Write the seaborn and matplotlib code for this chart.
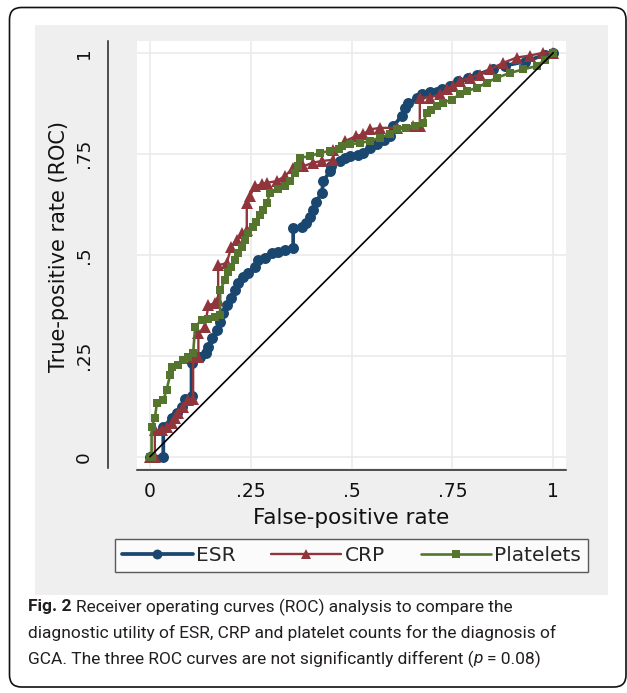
import numpy as np
import pandas as pd
import matplotlib
matplotlib.use("Agg")
import matplotlib.pyplot as plt
import seaborn as sns
from matplotlib.patches import FancyBboxPatch, Rectangle

# ---------------- data ----------------
esr_fpr = [0, 0.033, 0.033, 0.054, 0.066, 0.079, 0.087, 0.103, 0.103, 0.124,
           0.140, 0.145, 0.153, 0.165, 0.174, 0.182, 0.190, 0.202, 0.211, 0.219,
           0.231, 0.244, 0.260, 0.269, 0.285, 0.302, 0.318, 0.335, 0.355, 0.355,
           0.376, 0.388, 0.397, 0.405, 0.411, 0.426, 0.430, 0.446, 0.450, 0.471,
           0.483, 0.496, 0.517, 0.529, 0.545, 0.562, 0.579, 0.595, 0.603, 0.624,
           0.632, 0.640, 0.661, 0.674, 0.694, 0.711, 0.723, 0.744, 0.764, 0.789,
           0.810, 0.851, 0.880, 0.930, 0.979, 1.0]
esr_tpr = [0, 0, 0.074, 0.095, 0.107, 0.124, 0.142, 0.149, 0.231, 0.248,
           0.256, 0.272, 0.293, 0.314, 0.334, 0.355, 0.375, 0.392, 0.413, 0.429,
           0.444, 0.454, 0.470, 0.487, 0.491, 0.503, 0.507, 0.512, 0.516, 0.565,
           0.569, 0.578, 0.594, 0.611, 0.630, 0.653, 0.682, 0.707, 0.719, 0.732,
           0.740, 0.744, 0.748, 0.752, 0.765, 0.773, 0.785, 0.794, 0.818, 0.843,
           0.863, 0.875, 0.887, 0.897, 0.902, 0.902, 0.910, 0.918, 0.929, 0.937,
           0.945, 0.960, 0.968, 0.978, 0.995, 1.0]

crp_fpr = [0, 0.012, 0.012, 0.029, 0.041, 0.054, 0.062, 0.070, 0.083, 0.095,
           0.107, 0.107, 0.120, 0.120, 0.136, 0.145, 0.161, 0.169, 0.169, 0.190,
           0.202, 0.215, 0.227, 0.240, 0.240, 0.248, 0.260, 0.277, 0.289, 0.314,
           0.335, 0.355, 0.380, 0.405, 0.426, 0.455, 0.455, 0.483, 0.512, 0.529,
           0.545, 0.570, 0.612, 0.653, 0.669, 0.669, 0.694, 0.719, 0.736, 0.752,
           0.769, 0.793, 0.818, 0.843, 0.876, 0.909, 0.942, 0.975, 1.0]
crp_tpr = [0, 0, 0.066, 0.066, 0.074, 0.083, 0.095, 0.107, 0.124, 0.140,
           0.144, 0.248, 0.248, 0.305, 0.322, 0.375, 0.380, 0.388, 0.474, 0.479,
           0.520, 0.536, 0.553, 0.561, 0.627, 0.645, 0.670, 0.674, 0.678, 0.682,
           0.695, 0.715, 0.719, 0.728, 0.732, 0.735, 0.760, 0.781, 0.794, 0.798,
           0.810, 0.814, 0.814, 0.818, 0.818, 0.889, 0.889, 0.897, 0.909, 0.917,
           0.930, 0.938, 0.946, 0.959, 0.975, 0.988, 0.993, 1.0, 1.0]

plt_fpr = [0, 0.004, 0.004, 0.012, 0.017, 0.033, 0.041, 0.050, 0.054, 0.070,
           0.083, 0.095, 0.107, 0.112, 0.128, 0.145, 0.161, 0.174, 0.174, 0.186,
           0.194, 0.202, 0.211, 0.219, 0.227, 0.236, 0.244, 0.256, 0.264, 0.273,
           0.281, 0.289, 0.298, 0.318, 0.335, 0.347, 0.360, 0.368, 0.372, 0.397,
           0.421, 0.446, 0.468, 0.475, 0.496, 0.521, 0.545, 0.570, 0.595, 0.612,
           0.636, 0.657, 0.678, 0.686, 0.698, 0.711, 0.727, 0.748, 0.769, 0.785,
           0.810, 0.835, 0.860, 0.893, 0.926, 0.959, 0.979, 1.0]
plt_tpr = [0, 0, 0.074, 0.095, 0.132, 0.140, 0.165, 0.202, 0.223, 0.227,
           0.239, 0.248, 0.256, 0.322, 0.338, 0.342, 0.347, 0.351, 0.413, 0.437,
           0.458, 0.470, 0.487, 0.503, 0.520, 0.536, 0.553, 0.569, 0.582, 0.598,
           0.611, 0.627, 0.653, 0.662, 0.670, 0.682, 0.703, 0.719, 0.740, 0.744,
           0.752, 0.757, 0.761, 0.769, 0.773, 0.777, 0.781, 0.790, 0.798, 0.810,
           0.814, 0.818, 0.827, 0.851, 0.859, 0.868, 0.876, 0.884, 0.897, 0.905,
           0.913, 0.926, 0.938, 0.950, 0.959, 0.967, 0.983, 1.0]

ref_fpr = [0, 1]
ref_tpr = [0, 1]

series_names = ["ESR", "CRP", "Platelets"]
tick_values = [0, 0.25, 0.5, 0.75, 1]
tick_labels = ["0", ".25", ".5", ".75", "1"]
x_label = "False-positive rate"
y_label = "True-positive rate (ROC)"
# caption: list of lines, each a list of (text, weight, style) segments
caption_lines = [
    [("Fig. 2", "bold", "normal"),
     ("Receiver operating curves (ROC) analysis to compare the", "normal", "normal")],
    [("diagnostic utility of ESR, CRP and platelet counts for the diagnosis of", "normal", "normal")],
    [("GCA. The three ROC curves are not significantly different (", "normal", "normal"),
     ("p", "normal", "italic"),
     ("= 0.08)", "normal", "normal")],
]

# ---------------- styles ----------------
colors = {"ESR": "#1a476f", "CRP": "#90353b", "Platelets": "#55752f"}
markers = {"ESR": "o", "CRP": "^", "Platelets": "s"}
line_widths = {"ESR": 2.7, "CRP": 1.7, "Platelets": 1.9}
marker_sizes = {"ESR": 7.9, "CRP": 8.0, "Platelets": 6.3}

sns.set_style("white")
plt.rcParams["font.family"] = ["DejaVu Sans"]

W, H = 627, 693
fig = plt.figure(figsize=(W / 100, H / 100), dpi=100)
fig.patch.set_facecolor("white")


def px_in(x, y):
    return x / 100, (H - y) / 100


# outer rounded frame
x0, y0 = px_in(9.5, 687)
border = FancyBboxPatch((x0, y0), (626 - 9.5) / 100, (687 - 7.5) / 100,
                        boxstyle="round,pad=0,rounding_size=0.12",
                        transform=fig.dpi_scale_trans, facecolor="white",
                        edgecolor="#111111", linewidth=1.2, zorder=0)
fig.add_artist(border)
# grey graph region
gx, gy = px_in(35, 595)
panel = Rectangle((gx, gy), (608 - 35) / 100, (595 - 25) / 100,
                  transform=fig.dpi_scale_trans, facecolor="#efefef",
                  edgecolor="none", zorder=0.5)
fig.add_artist(panel)

# ---------------- axes ----------------
ax_left, ax_right, ax_top, ax_bot = 137, 566, 41, 468
ax = fig.add_axes([ax_left / W, 1 - ax_bot / H, (ax_right - ax_left) / W,
                   (ax_bot - ax_top) / H])
ax.set_facecolor("white")
ax.set_zorder(2)

df = pd.concat([
    pd.DataFrame({"fpr": esr_fpr, "tpr": esr_tpr, "test": "ESR"}),
    pd.DataFrame({"fpr": crp_fpr, "tpr": crp_tpr, "test": "CRP"}),
    pd.DataFrame({"fpr": plt_fpr, "tpr": plt_tpr, "test": "Platelets"}),
], ignore_index=True)

sns.lineplot(data=df, x="fpr", y="tpr", hue="test", style="test",
             hue_order=series_names, style_order=series_names,
             palette=colors, markers=markers, dashes=False,
             estimator=None, sort=False, legend=False, ax=ax,
             markeredgewidth=0)
for line, name in zip(ax.lines[:3], series_names):
    line.set_linewidth(line_widths[name])
    line.set_markersize(marker_sizes[name])
    line.set_markeredgewidth(0)
    line.set_zorder(3)

sns.lineplot(x=ref_fpr, y=ref_tpr, color="black", linewidth=1.2, ax=ax,
             estimator=None, sort=False, legend=False)
ax.lines[-1].set_zorder(4)

ax.set_xlim(-0.0322, 1.0315)
ax.set_ylim(-0.028, 1.029)
ax.set_xticks(tick_values, tick_labels)
ax.set_yticks(tick_values, tick_labels)
ax.grid(True, color="#ebebeb", linewidth=1.2)
ax.set_axisbelow(True)

for s in ("top", "right"):
    ax.spines[s].set_visible(False)
ax.spines["left"].set_position(("outward", 20.9))
ax.spines["bottom"].set_position(("outward", 1.4))
for s in ("left", "bottom"):
    ax.spines[s].set_color("#222222")
    ax.spines[s].set_linewidth(1.1)
ax.tick_params(axis="both", direction="out", length=5, width=1.1,
               color="#222222", labelcolor="#111111")
ax.tick_params(axis="x", pad=4.0, labelsize=13.5)
ax.tick_params(axis="y", pad=6, labelsize=13.2, labelrotation=90)
for lab in ax.get_yticklabels():
    lab.set_verticalalignment("center")

ax.set_xlabel(x_label, fontsize=15.5, color="#111111")
ax.set_ylabel(y_label, fontsize=15, color="#111111")
ax.xaxis.set_label_coords(0.5, (ax_bot - 508) / (ax_bot - ax_top))
ax.yaxis.set_label_coords((69 - ax_left) / (ax_right - ax_left),
                          (ax_bot - 247) / (ax_bot - ax_top))

# ---------------- legend ----------------
leg = fig.legend(handles=ax.lines[:3], labels=series_names, loc="center",
                 bbox_to_anchor=((116 + 587) / 2 / W, 1 - 555.5 / H),
                 ncol=3, frameon=True, fancybox=False, fontsize=14.5,
                 handlelength=3.5, handletextpad=0.15, columnspacing=1.78,
                 borderpad=0.35, borderaxespad=0, numpoints=1)
leg.get_frame().set_edgecolor("#333333")
leg.get_frame().set_linewidth(1.0)
leg.get_frame().set_facecolor("white")
leg.set_zorder(3)
for h, name in zip(leg.legend_handles, series_names):
    h.set_markersize(marker_sizes[name] * 0.9)

# ---------------- caption ----------------
renderer = fig.canvas.get_renderer()
cap_family = ["Roboto", "DejaVu Sans"]


def measure(s, size, weight="normal", style="normal"):
    t = fig.text(0, 0, s, fontsize=size, family=cap_family,
                 fontweight=weight, fontstyle=style)
    w = t.get_window_extent(renderer).width
    t.remove()
    return w


def draw_caption(size, x_px=28, y_first=607, spacing=26):
    artists = []
    widths = []
    space = measure("a a", size) - measure("aa", size)
    for i, segs in enumerate(caption_lines):
        x = x_px
        y = y_first + spacing * i
        for j, (s, wt, st) in enumerate(segs):
            t = fig.text(x / W, 1 - y / H, s, fontsize=size, family=cap_family,
                         fontweight=wt, fontstyle=st, color="#231f20",
                         ha="left", va="center", zorder=3)
            artists.append(t)
            w = t.get_window_extent(renderer).width
            x += w
            if j + 1 < len(segs) and not s.endswith("("):
                x += space
        widths.append(x - x_px)
    return artists, widths


# fit the caption size to the reference line lengths (492, 523, 505 px)
arts, widths = draw_caption(12)
for a in arts:
    a.remove()
cap_size = 12 * (492 + 523 + 505) / sum(widths)
draw_caption(cap_size)

fig.savefig("out.png", dpi=100, facecolor="white")
